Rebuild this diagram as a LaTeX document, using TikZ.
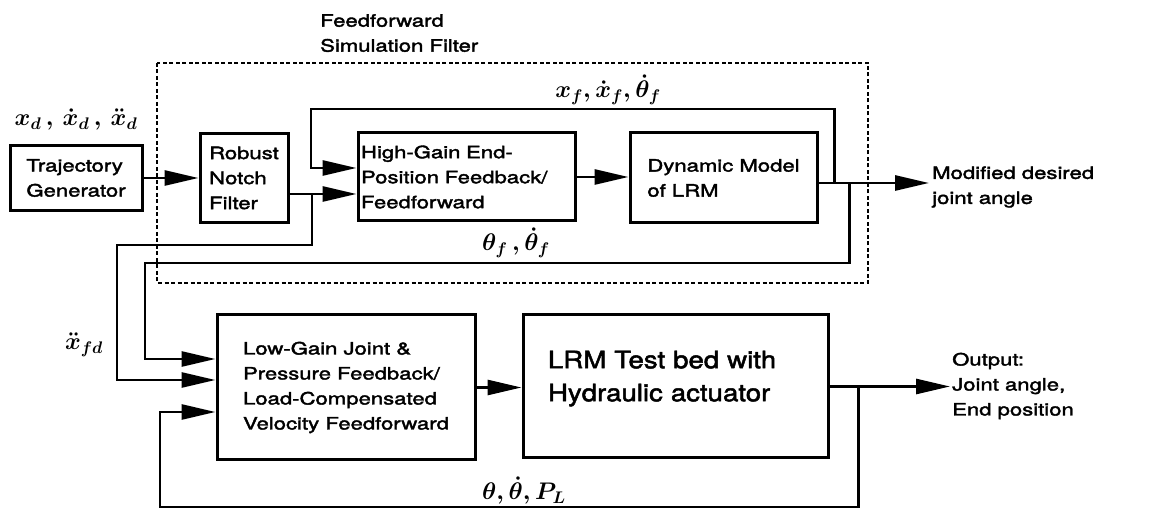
\documentclass[tikz,border=0pt]{standalone}
\usepackage{fix-cm}
\usepackage{fontspec}
\setmainfont{TeX Gyre Heros}[FakeStretch=1.3,FakeBold=2.2]
\newfontfamily\bigfont{TeX Gyre Heros}[FakeStretch=1.15,FakeBold=2]
\usetikzlibrary{arrows.meta,calc}

\begin{document}
\begin{tikzpicture}[x=1pt,y=-1pt,
    every node/.style={font=\fontsize{17}{25}\selectfont},
    block/.style={draw, line width=3pt, align=left, inner sep=2pt},
    sig/.style={line width=2.8pt},
    arr/.style={sig, -{Triangle[length=34pt,width=15pt]}},
    lbl/.style={inner sep=0pt, font=\fontsize{24}{28}\selectfont\boldmath},
  ]
  \useasboundingbox (0,0) rectangle (1149,510);

  % feedforward simulation filter frame
  \draw[line width=2.4pt, dash pattern=on 4pt off 2.5pt] (157,63) rectangle (868,283);

  % blocks
  \node[block, minimum width=132pt, minimum height=65pt] (traj) at (76,178) {Trajectory\\Generator};
  \node[block, minimum width=88pt, minimum height=89pt] (notch) at (244,178) {Robust\\Notch\\Filter};
  \node[block, minimum width=217pt, minimum height=88pt, text width=211pt] (hg) at (466.5,177)
    {High-Gain End-\\Position Feedback/\\Feedforward};
  \node[block, minimum width=187pt, minimum height=90pt] (dyn) at (723.5,178) {Dynamic Model\\of LRM};
  \node[block, minimum width=258pt, minimum height=145pt] (low) at (346,387.5)
    {Low-Gain Joint \&\\Pressure Feedback/\\Load-Compensated\\Velocity Feedforward};
  \node[block, minimum width=305pt, minimum height=143pt, text width=255pt, text depth=54pt,
    font=\bigfont\fontsize{24}{33}\selectfont] (lrm) at (675.5,386.5)
    {LRM Test bed with\\Hydraulic actuator};

  % texts
  \node[anchor=north west, inner sep=0pt, align=left] (fftitle) at (320,14) {Feedforward\\Simulation Filter};
  \node[anchor=west, inner xsep=3pt, inner ysep=0pt, align=left] (mod) at (929,187) {Modified desired\\joint angle};
  \node[anchor=west, inner xsep=2pt, inner ysep=0pt, align=left] (out) at (950,386) {Output:\\Joint angle,\\End position};

  \node[lbl] (xd) at (76,120) {$x_d\,,\,\dot{x}_d\,,\,\ddot{x}_d$};
  \node[lbl] (xf) at (608,90) {$x_f,\dot{x}_f,\dot{\theta}_f$};
  \node[lbl] (thf) at (516,243) {$\theta_f\,,\dot{\theta}_f$};
  \node[lbl] (xfd) at (84,345) {$\ddot{x}_{fd}$};
  \node[lbl] (thp) at (524,491) {$\theta,\dot{\theta},P_L$};

  % junctions and corners
  \coordinate (dout) at ($(dyn.east)+(0,5)$);
  \coordinate (jtop) at ($(dout)+(16,0)$);
  \coordinate (jbot) at ($(dout)+(31,0)$);
  \coordinate (jsplit) at (312,194);
  \coordinate (jout) at ($(lrm.east)+(29,0)$);
  \coordinate (ftop) at (311,109);
  \coordinate (fbot) at (145,263);
  \coordinate (fsplit) at (117,245);
  \coordinate (fpl) at (160,507);

  % signals
  \draw[arr] (traj) -- (notch);
  \draw[arr] (notch.east |- jsplit) -- (hg.west |- jsplit);
  \draw[arr] (hg.east) -- (hg.east -| dyn.west);
  \draw[arr] (dyn.east |- dout) -- (mod.west |- dout);
  \draw[arr] (jtop) |- (ftop) |- ($(hg.west)+(0,-9)$);
  \draw[arr] (jbot) |- (fbot) |- ($(low.west)+(0,-28.5)$);
  \draw[arr] (jsplit) |- (fsplit) |- ($(low.west)+(0,-7.5)$);
  \draw[arr] (low.east) -- (low.east -| lrm.west);
  \draw[arr] (lrm.east) -- (out.west |- lrm.east);
  \draw[arr] (jout) |- (fpl) |- ($(low.west)+(0,24.5)$);
\end{tikzpicture}
\end{document}
